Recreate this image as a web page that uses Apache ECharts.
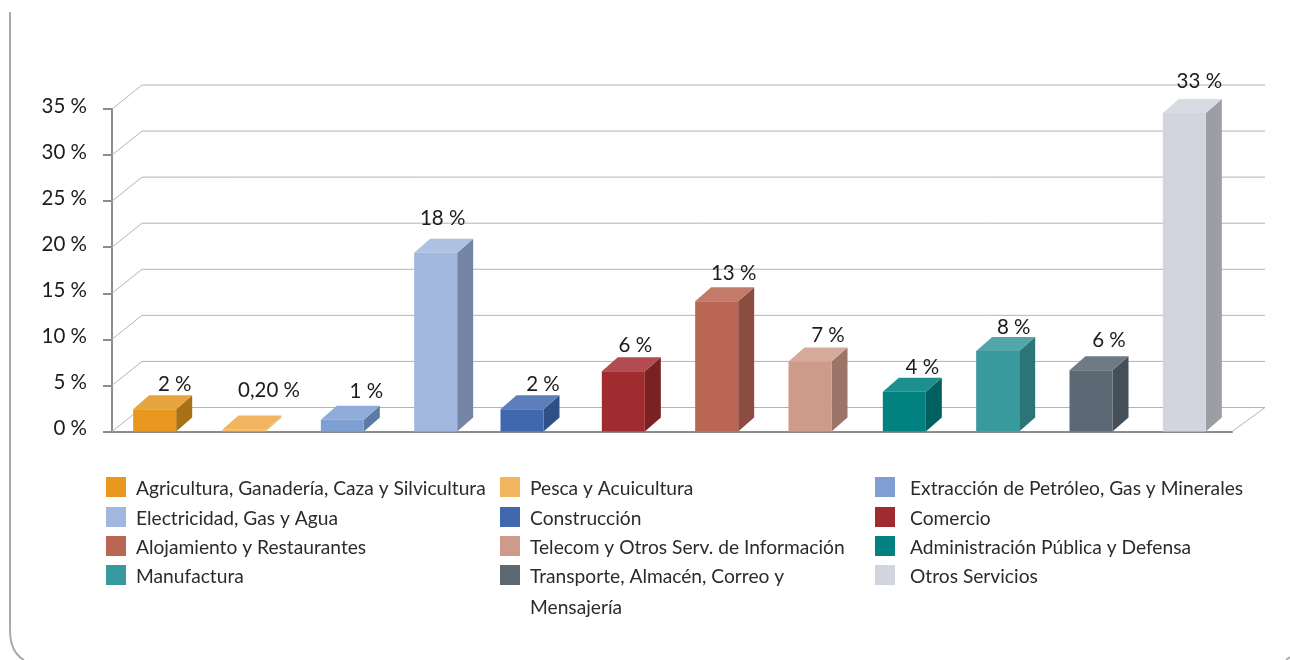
<!DOCTYPE html>
<html>
<head>
<meta charset="utf-8">
<style>
  html, body { margin: 0; padding: 0; background: #fff; }
  #chart { width: 1290px; height: 660px; }
</style>
<script src="https://cdn.jsdelivr.net/npm/echarts@6/dist/echarts.min.js"></script>
</head>
<body>
<div id="chart"></div>
<script>
const categories = [
  'Agricultura, Ganadería, Caza y Silvicultura',
  'Pesca y Acuicultura',
  'Extracción de Petróleo, Gas y Minerales',
  'Electricidad, Gas y Agua',
  'Construcción',
  'Comercio',
  'Alojamiento y Restaurantes',
  'Telecom y Otros Serv. de Información',
  'Administración Pública y Defensa',
  'Manufactura',
  'Transporte, Almacén, Correo y\nMensajería',
  'Otros Servicios',
];
// all of them round to the printed labels
const values = [2.3, 0.2, 1.2, 18.4, 2.3, 6.2, 13.4, 7.2, 4.1, 8.3, 6.3, 32.8];
const valueLabels = ['2 %', '0,20 %', '1 %', '18 %', '2 %', '6 %', '13 %', '7 %', '4 %', '8 %', '6 %', '33 %'];
const yTicks = [0, 5, 10, 15, 20, 25, 30, 35];

const frontColors = ['#E9981F', '#F1B45F', '#7F9FD2', '#A2B7DD', '#3F68AE', '#A12C30', '#B96654', '#CE9A89', '#018180', '#399A9E', '#5C6975', '#D2D5DD'];
const topColors = ['#E6A43E', '#F1B45F', '#90ABD8', '#AEC2E3', '#5C7FBB', '#B24C50', '#C27A6A', '#D6A99A', '#1C8F8E', '#52A6A9', '#6E7A85', '#D9DBE2'];
const sideColors = ['#A97116', '#F1B45F', '#5D7AA6', '#7485A6', '#2F4F87', '#7A2124', '#8C4D40', '#9C7568', '#016160', '#2B7578', '#454F58', '#9D9EA3'];

const fontName = 'Lato, sans-serif';
const wallDx = 30;
const wallDy = 24;
const barWidth = 43;
const barDx = 16;
const barDy = 14;

// the source nudged some bars and labels by hand, these are px on top of the scale
const barNudge = [-4, -8, -3, -3, -10, -2, -2, -2, -1, -1, -1, -1];
const labelNudge = [[20, 2], [25, -12], [24, -1], [7, -7], [21, 2], [12, 1], [17, -1], [18, 1], [18, 3], [16, 4], [18, -3], [15, -4]];

let myChart = echarts.init(document.getElementById('chart'));

function renderWall(params, api) {
  let box = params.coordSys;
  let y = api.coord([0, api.value(1)])[1];
  let right = box.x + box.width;
  let lineStyle = { stroke: '#b4b4b4', lineWidth: 1, fill: null };
  let points = [[box.x, y], [box.x + wallDx, y - wallDy], [right + wallDx + 3, y - wallDy]];
  let children = [{ type: 'polyline', shape: { points: points }, style: lineStyle }];
  if (api.value(1) === 0) {
    children.push({
      type: 'line',
      shape: { x1: right, y1: y, x2: right + wallDx + 3, y2: y - wallDy },
      style: lineStyle,
    });
  }
  return { type: 'group', children: children };
}

function renderBar(params, api) {
  let i = api.value(0);
  let base = api.coord([i, 0]);
  let top = api.coord([i, api.value(1)])[1];
  let left = base[0] + barNudge[i] - barWidth / 2;
  let right = left + barWidth;
  let bottom = base[1];
  return {
    type: 'group',
    children: [
      {
        type: 'polygon',
        shape: { points: [[right, bottom], [right + barDx, bottom - barDy], [right + barDx, top - barDy], [right, top]] },
        style: { fill: sideColors[i] },
      },
      {
        type: 'polygon',
        shape: { points: [[left, top], [left + barDx, top - barDy], [right + barDx, top - barDy], [right, top]] },
        style: { fill: topColors[i] },
      },
      {
        type: 'rect',
        shape: { x: left, y: top, width: barWidth, height: bottom - top },
        style: { fill: frontColors[i] },
      },
      {
        type: 'text',
        style: {
          x: base[0] + barNudge[i] + labelNudge[i][0],
          y: top - 27 + labelNudge[i][1],
          text: valueLabels[i],
          fill: '#1c1c1c',
          font: '20.5px ' + fontName,
          align: 'center',
          verticalAlign: 'middle',
        },
      },
    ],
  };
}

function legendItems() {
  let columns = [[106, 136], [500, 530], [875, 910]];
  let rows = [487, 517, 546, 575];
  let items = [];
  categories.forEach((name, i) => {
    let col = columns[i % 3];
    let y = rows[Math.floor(i / 3)];
    items.push({
      type: 'rect',
      shape: { x: col[0], y: y - 10, width: 20, height: 20 },
      style: { fill: frontColors[i] },
    });
    items.push({
      type: 'text',
      style: {
        x: col[1],
        y: y - 14,
        text: name,
        fill: '#2b2b2b',
        font: '19.2px ' + fontName,
        lineHeight: 31,
        verticalAlign: 'top',
      },
    });
  });
  return items;
}

let frame = { stroke: '#aaaaaa', lineWidth: 2, fill: null };

myChart.setOption({
  animation: false,
  backgroundColor: '#ffffff',
  grid: { left: 112, right: 58, top: 109, height: 322.5 },
  xAxis: {
    type: 'category',
    data: categories,
    axisLine: { lineStyle: { color: '#8c8c8c', width: 2 } },
    axisTick: { length: 9, lineStyle: { color: '#8c8c8c', width: 2 } },
    axisLabel: { show: false },
  },
  yAxis: [
    {
      type: 'value',
      min: 0,
      max: 35,
      interval: 5,
      axisLine: { show: true, lineStyle: { color: '#8c8c8c', width: 2 } },
      axisTick: { show: true, length: 9, lineStyle: { color: '#8c8c8c', width: 2 } },
      splitLine: { show: false },
      axisLabel: {
        margin: 25,
        color: '#1c1c1c',
        fontFamily: 'Lato',
        fontSize: 20.5,
        verticalAlign: 'bottom',
        lineHeight: 6,
        formatter: '{value} %',
      },
    },
    // bars stand about 5% taller than the ticks in the source, so they get their own scale
    { type: 'value', show: false, min: 0, max: 33.2, splitLine: { show: false } },
  ],
  series: [
    {
      type: 'custom',
      name: 'walls',
      yAxisIndex: 0,
      silent: true,
      clip: false,
      z: 1,
      renderItem: renderWall,
      data: yTicks.map((t) => [0, t]),
    },
    {
      type: 'custom',
      name: 'bars',
      yAxisIndex: 1,
      clip: false,
      z: 3,
      renderItem: renderBar,
      data: values.map((v, i) => [i, v]),
    },
  ],
  graphic: [
    { type: 'polyline', shape: { points: [[10, 12], [10, 630]] }, style: frame },
    { type: 'bezierCurve', shape: { x1: 10, y1: 630, cpx1: 10, cpy1: 652, x2: 24, y2: 660 }, style: frame },
    { type: 'line', shape: { x1: 1290, y1: 657, x2: 1286, y2: 660 }, style: frame },
    { type: 'group', children: legendItems() },
  ],
});
</script>
</body>
</html>
